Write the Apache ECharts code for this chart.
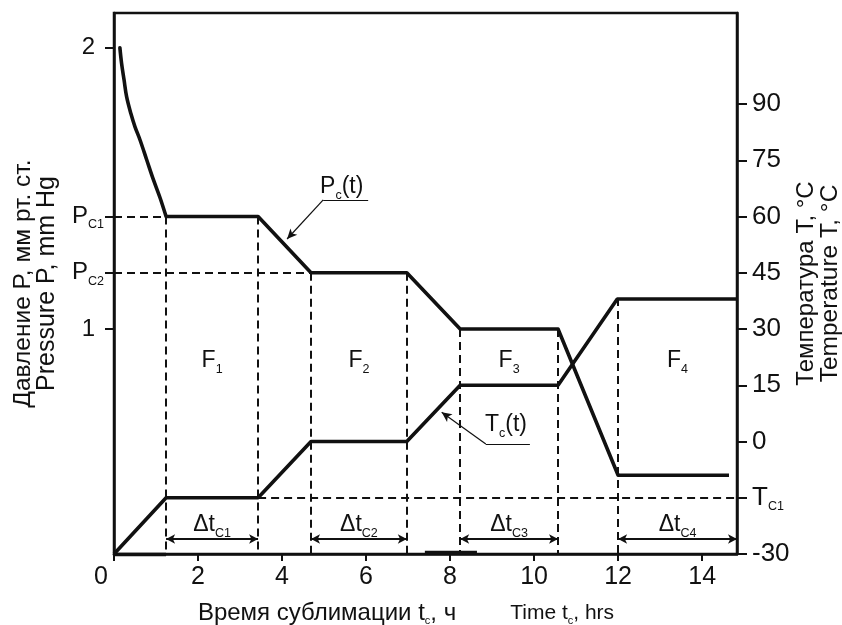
<!DOCTYPE html>
<html>
<head>
<meta charset="utf-8">
<script src="https://cdn.jsdelivr.net/npm/echarts@6/dist/echarts.min.js"></script>
<style>
html, body { margin: 0; padding: 0; background: #fff; }
#main { width: 842px; height: 625px; }
</style>
</head>
<body>
<div id="main"></div>
<script>
// давление P_c(t), мм рт. ст. : начальный спад (плавная кривая) и ступени
var pCurveTime  = [0.14, 0.18, 0.24, 0.30, 0.40, 0.50, 0.62, 0.78, 0.94, 1.10, 1.24];
var pCurveValue = [2.0, 1.945, 1.885, 1.826, 1.767, 1.719, 1.672, 1.601, 1.53, 1.465, 1.4];
var pTime  = [1.24, 3.43, 4.69, 6.97, 8.24, 10.57, 12.0, 14.64];
var pValue = [1.4, 1.4, 1.2, 1.2, 1.0, 1.0, 0.48, 0.48];
// температура T_c(t), °C
var tTime  = [0, 1.24, 3.43, 4.69, 6.97, 8.24, 10.57, 11.98, 14.83];
var tValue = [-30, -15, -15, 0, 0, 15, 15, 38, 38];

// ticks
var xTicks = [0, 2, 4, 6, 8, 10, 12, 14];
var pTicks = [2, 1.4, 1.2, 1];
var pTickLabels = ['2', 'P|C1', 'P|C2', '1'];
var tTicks = [90, 75, 60, 45, 30, 15, 0, -15, -30];
var tTickLabels = ['90', '75', '60', '45', '30', '15', '0', 'T|C1', '-30'];

// stages F1..F4
var stageStart = [1.24, 4.69, 8.24, 12.0];
var stageEnd   = [3.43, 6.97, 10.57, 14.83];
var stageTop   = [1.4, 1.2, 1.0, 1.11];   // верх пунктира, по оси P
var stageNames = ['F|1', 'F|2', 'F|3', 'F|4'];
var deltaNames = ['Δt|C1', 'Δt|C2', 'Δt|C3', 'Δt|C4'];
var pLevels    = [1.4, 1.2];              // P_C1, P_C2
var pLevelEnd  = [1.24, 4.69];
var tLevel     = -15;                     // T_C1
// жирные куски у оси времени (как на оригинале)
var baseStart = [0, 7.4];
var baseEnd   = [1.24, 8.64];
var baseT     = [-30, -29.6];

var X_MAX = 14.83, P_MIN = 0.2, P_MAX = 2.1236, T_MIN = -30, T_MAX = 114.27;
var FONT = '"Liberation Sans", Arial, sans-serif';
var INK = '#111';

function rich(size) {
    return {
        b: { fontSize: size, lineHeight: 30, verticalAlign: 'middle', fontFamily: FONT, color: INK },
        s: { fontSize: 12.5, lineHeight: 12, verticalAlign: 'bottom', fontFamily: FONT, color: INK },
        n: { fontSize: size, lineHeight: 30, verticalAlign: 'middle', fontFamily: FONT, color: INK, padding: [0, 9, 0, 0] },
        z: { fontSize: size, fontFamily: FONT, color: INK, padding: [0, 26, 0, 0] }
    };
}
function sub(txt, tail) {
    var p = txt.split('|');
    if (p.length < 2) return '{b|' + txt + '}';
    return '{b|' + p[0] + '}{s|' + p[1] + '}' + (tail ? '{b|' + tail + '}' : '');
}
function seg(x1, y1, x2, y2) { return [{ coord: [x1, y1] }, { coord: [x2, y2] }]; }
function txt(x, y, str, tail) {
    return { coord: [x, y], value: 0, label: { formatter: sub(str, tail) } };
}
function nameRich(a, b) {
    return {
        a: { fontSize: a, lineHeight: 24, fontFamily: FONT, color: INK },
        l: { fontSize: b, lineHeight: 24, fontFamily: FONT, color: INK }
    };
}
function pairs(xs, ys) { return xs.map(function (x, i) { return [x, ys[i]]; }); }

var guideP = [];
stageStart.forEach(function (t, i) { guideP.push(seg(t, stageTop[i], t, P_MIN)); });
stageEnd.slice(0, 3).forEach(function (t, i) { guideP.push(seg(t, stageTop[i], t, P_MIN)); });
pLevels.forEach(function (v, i) { guideP.push(seg(0, v, pLevelEnd[i], v)); });

var arrows = stageStart.map(function (t, i) { return seg(t, -26, stageEnd[i], -26); });
var baseSegs = baseStart.map(function (t, i) { return seg(t, baseT[i], baseEnd[i], baseT[i]); });

var labelsT = [];
stageStart.forEach(function (t, i) {
    var mid = (t + stageEnd[i]) / 2;
    labelsT.push(txt(mid, 21.5, stageNames[i]));
    labelsT.push(txt(mid, -22.3, deltaNames[i]));
});
labelsT.push(txt(9.33, 4.4, 'T|c', '(t)'));
var labelsP = [txt(5.42, 1.505, 'P|c', '(t)')];

var chart = echarts.init(document.getElementById('main'));
chart.setOption({
    animation: false,
    backgroundColor: '#fff',
    textStyle: { fontFamily: FONT, color: INK },
    grid: {
        left: 114, right: 105, top: 13, bottom: 71, outerBoundsMode: 'none', containLabel: false,
        show: true, borderColor: INK, borderWidth: 2.5
    },
    xAxis: {
        type: 'value', min: 0, max: X_MAX, interval: 2,
        splitLine: { show: false },
        axisLine: { onZero: false, lineStyle: { color: INK, width: 2.5 } },
        axisTick: { show: true, length: 7, lineStyle: { color: INK, width: 2 } },
        axisLabel: {
            fontSize: 25, color: INK, margin: 11, showMaxLabel: false,
            formatter: function (v) { return v === 0 ? '{z|0}' : (xTicks.indexOf(v) >= 0 ? String(v) : ''); },
            rich: rich(25)
        },
        name: '{a|Время сублимации t}{c|c}{a|, ч}{g|}{e|Time t}{c|c}{e|, hrs}',
        nameLocation: 'middle', nameGap: 46, nameMoveOverlap: false,
        nameTextStyle: {
            padding: [0, 39, 0, 0],
            rich: {
                a: { fontSize: 24, lineHeight: 26, verticalAlign: 'middle', fontFamily: FONT, color: INK },
                e: { fontSize: 21, lineHeight: 26, verticalAlign: 'middle', fontFamily: FONT, color: INK },
                c: { fontSize: 11, lineHeight: 11, verticalAlign: 'bottom', fontFamily: FONT, color: INK },
                g: { width: 54 }
            }
        }
    },
    yAxis: [{
        type: 'value', min: P_MIN, max: P_MAX, position: 'left',
        splitLine: { show: false },
        axisLine: { show: true, onZero: false, lineStyle: { color: INK, width: 2.5 } },
        axisTick: { show: true, length: 9, customValues: pTicks, lineStyle: { color: INK, width: 2 } },
        axisLabel: {
            fontSize: 24, margin: 10, customValues: pTicks,
            formatter: function (v) {
                var l = pTickLabels[pTicks.indexOf(v)];
                return l.indexOf('|') >= 0 ? sub(l) : '{n|' + l + '}';
            },
            rich: rich(24)
        },
        name: '{a|Давление P, мм рт. ст.}\n{l|Pressure P, mm Hg}',
        nameLocation: 'middle', nameRotate: 90, nameGap: 55, nameMoveOverlap: false,
        nameTextStyle: { rich: nameRich(24.5, 25) }
    }, {
        type: 'value', min: T_MIN, max: T_MAX, position: 'right',
        splitLine: { show: false },
        axisLine: { show: true, onZero: false, lineStyle: { color: INK, width: 2.5 } },
        axisTick: { show: true, length: 10, customValues: tTicks, lineStyle: { color: INK, width: 2 } },
        axisLabel: {
            fontSize: 26, margin: 15, customValues: tTicks,
            formatter: function (v) {
                var l = tTickLabels[tTicks.indexOf(v)];
                return l.indexOf('|') >= 0 ? sub(l) : '{b|' + l + '}';
            },
            rich: rich(26)
        },
        name: '{a|Температура T, °C}\n{l|Temperature T, °C}',
        nameLocation: 'middle', nameRotate: 90, nameGap: 57, nameMoveOverlap: false,
        nameTextStyle: { rich: nameRich(24, 24.5) }
    }],
    series: [{
        name: 'P_c(t) спад', type: 'line', yAxisIndex: 0, data: pairs(pCurveTime, pCurveValue),
        smooth: 0.35,
        showSymbol: false, lineStyle: { color: INK, width: 3.6, cap: 'round' }, z: 5
    }, {
        name: 'P_c(t)', type: 'line', yAxisIndex: 0, data: pairs(pTime, pValue),
        showSymbol: false, lineStyle: { color: INK, width: 3.6, join: 'round' }, z: 5
    }, {
        name: 'T_c(t)', type: 'line', yAxisIndex: 1, data: pairs(tTime, tValue),
        showSymbol: false, lineStyle: { color: INK, width: 3.6 }, z: 5
    }, {
        name: 'guidesP', type: 'line', yAxisIndex: 0, data: [],
        markLine: {
            silent: true, symbol: ['none', 'none'], label: { show: false },
            lineStyle: { color: INK, width: 2, type: [8, 5] },
            data: guideP
        },
        markPoint: {
            silent: true, symbol: 'circle', symbolSize: 0.1, itemStyle: { color: 'rgba(0,0,0,0)' },
            label: { show: true, position: 'inside', rich: rich(23) },
            data: labelsP
        }
    }, {
        name: 'guidesT', type: 'line', yAxisIndex: 1, data: [],
        markLine: {
            silent: true, symbol: ['none', 'none'], label: { show: false },
            lineStyle: { color: INK, width: 2, type: [8, 5] },
            data: [seg(stageEnd[0], tLevel, X_MAX, tLevel)]
        },
        markPoint: {
            silent: true, symbol: 'circle', symbolSize: 0.1, itemStyle: { color: 'rgba(0,0,0,0)' },
            label: { show: true, position: 'inside', rich: rich(23) },
            data: labelsT
        }
    }, {
        name: 'base', type: 'line', yAxisIndex: 1, data: [],
        markLine: {
            silent: true, symbol: ['none', 'none'], label: { show: false },
            lineStyle: { color: INK, width: 3.4, type: 'solid' },
            data: baseSegs
        }
    }, {
        name: 'arrows', type: 'line', yAxisIndex: 1, data: [],
        markLine: {
            silent: true, symbol: ['arrow', 'arrow'], symbolSize: [7, 9], label: { show: false },
            lineStyle: { color: INK, width: 1.8, type: 'solid' },
            data: arrows
        }
    }, {
        name: 'pointerP', type: 'line', yAxisIndex: 0, data: [],
        markLine: {
            silent: true, symbol: ['none', 'none'], label: { show: false },
            lineStyle: { color: INK, width: 1.2, type: 'solid' },
            data: [seg(4.98, 1.459, 6.05, 1.459),
                   [{ coord: [4.98, 1.459] }, { coord: [4.12, 1.32], symbol: 'arrow', symbolSize: [7, 10] }]]
        }
    }, {
        name: 'pointerT', type: 'line', yAxisIndex: 1, data: [],
        markLine: {
            silent: true, symbol: ['none', 'none'], label: { show: false },
            lineStyle: { color: INK, width: 1.2, type: 'solid' },
            data: [seg(8.85, -0.67, 9.9, -0.67),
                   [{ coord: [8.85, -0.67] }, { coord: [7.8, 7.8], symbol: 'arrow', symbolSize: [7, 10] }]]
        }
    }]
});
</script>
</body>
</html>
